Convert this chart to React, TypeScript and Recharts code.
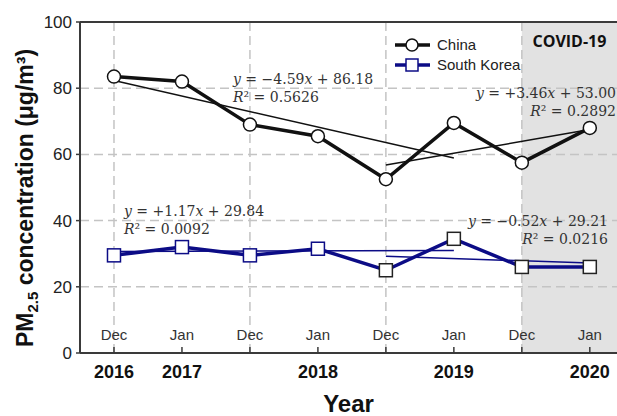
import { LineChart, Line, XAxis, YAxis, ReferenceArea, ReferenceLine } from 'recharts'

// x positions are survey months, plotted on an even index scale
const POSITIONS = [0, 1, 2, 3, 4, 5, 6, 7]
const MONTHS = ['Dec', 'Jan', 'Dec', 'Jan', 'Dec', 'Jan', 'Dec', 'Jan']
const YEARS = ['2016', '2017', '', '2018', '', '2019', '', '2020']

const CHINA = [83.5, 82, 69, 65.5, 52.5, 69.5, 57.5, 68]
const KOREA = [29.5, 32, 29.5, 31.5, 25, 34.5, 26, 26]

// linear fits: [start index, end index] and fitted values at those ends
const FIT_CHINA_PRE = { span: [0, 5], values: [82.3, 58.9] }
const FIT_CHINA_POST = { span: [4, 7], values: [56.8, 67.5] }
const FIT_KOREA_PRE = { span: [0, 5], values: [30.7, 31.0] }
const FIT_KOREA_POST = { span: [4, 7], values: [29.2, 27.2] }

const Y_TICKS = [0, 20, 40, 60, 80, 100]
const GRID_Y = [20, 40, 60, 80]
const GRID_X = [0, 2, 4, 6]
const COVID_START = 6
const X_MAX = 7.4

const NAVY = '#0c0c86'
const GRID = '#c4c4c4'
const AXIS = '#3a3a3a'
const SANS = '"Liberation Sans", Arial, sans-serif'
const SERIF = '"DejaVu Serif", serif'

const rows = POSITIONS.map((pos, i) => ({ pos, china: CHINA[i], korea: KOREA[i] }))
const fitRows = (fit: { span: number[]; values: number[] }) =>
  fit.span.map((pos, i) => ({ pos, fit: fit.values[i] }))

function MonthTick({ x, y, payload }: any) {
  const i = payload.value
  return (
    <g>
      <line x1={x} x2={x} y1={y} y2={y - 6} stroke={AXIS} strokeWidth={1.5} />
      <text x={x} y={y - 13} textAnchor="middle" fontSize={15} fill="#333" fontFamily={SANS}>
        {MONTHS[i]}
      </text>
      {YEARS[i] && (
        <text x={x} y={y + 25} textAnchor="middle" fontSize={18} fontWeight="bold" fill="#111" fontFamily={SANS}>
          {YEARS[i]}
        </text>
      )}
    </g>
  )
}

function KoreaDot({ cx, cy, index }: any) {
  return (
    <rect
      key={`k${index}`}
      x={cx - 6.5}
      y={cy - 6.5}
      width={13}
      height={13}
      fill="#fff"
      stroke={index < 4 ? NAVY : '#222'}
      strokeWidth={1.5}
    />
  )
}

function Equation({ x, y, anchor, slope, icept, r2 }: any) {
  return (
    <g fontFamily={SERIF} fontSize={14} fill="#333">
      <text x={x} y={y} textAnchor={anchor}>
        <tspan fontStyle="italic">y</tspan> = {slope}
        <tspan fontStyle="italic">x</tspan> + {icept}
      </text>
      <text x={x} y={y + 18} textAnchor={anchor}>
        <tspan fontStyle="italic">R</tspan>² = {r2}
      </text>
    </g>
  )
}

function LegendBox() {
  return (
    <svg width={150} height={42} style={{ position: 'absolute', left: 390, top: 34 }}>
      <line x1={5} x2={40} y1={11} y2={11} stroke="#111" strokeWidth={3.5} />
      <circle cx={22} cy={11} r={6} fill="#fff" stroke="#111" strokeWidth={1.5} />
      <text x={47} y={16} fontSize={15} fontFamily={SANS} fill="#222">China</text>
      <line x1={5} x2={40} y1={31} y2={31} stroke={NAVY} strokeWidth={3.5} />
      <rect x={16} y={25} width={12} height={12} fill="#fff" stroke={NAVY} strokeWidth={1.5} />
      <text x={47} y={36} fontSize={15} fontFamily={SANS} fill="#222">South Korea</text>
    </svg>
  )
}

export default function App() {
  return (
    <div style={{ position: 'absolute', left: 0, top: 0, width: 617, height: 416, background: '#fff' }}>
      <LineChart width={617} height={416} data={rows} margin={{ top: 22, right: 0, bottom: 0, left: 0 }}>
        <ReferenceArea
          x1={COVID_START}
          x2={X_MAX}
          y1={0}
          y2={100}
          fill="#e2e2e2"
          fillOpacity={1}
          stroke="none"
          label={({ viewBox }: any) => (
            <text
              x={viewBox.x + viewBox.width / 2}
              y={viewBox.y + 25}
              textAnchor="middle"
              fontSize={16}
              fontWeight="bold"
              fontFamily='"Open Sans", sans-serif'
              fill="#111"
            >
              COVID-19
            </text>
          )}
        />
        {GRID_Y.map(v => (
          <ReferenceLine key={`gy${v}`} y={v} stroke={GRID} strokeWidth={1.5} strokeDasharray="9 5" />
        ))}
        {GRID_X.map(v => (
          <ReferenceLine key={`gx${v}`} x={v} stroke={GRID} strokeWidth={1.5} strokeDasharray="9 5" />
        ))}
        <ReferenceLine y={100} stroke={AXIS} strokeWidth={2} />
        <XAxis
          dataKey="pos"
          type="number"
          domain={[-0.5, X_MAX]}
          ticks={POSITIONS}
          interval={0}
          height={63}
          tickLine={false}
          tickSize={0}
          tickMargin={0}
          tick={<MonthTick />}
          axisLine={{ stroke: AXIS, strokeWidth: 2 }}
          label={{
            value: 'Year',
            position: 'insideBottom',
            offset: 4,
            fontSize: 24,
            fontWeight: 'bold',
            fontFamily: SANS,
            fill: '#111',
          }}
        />
        <YAxis
          domain={[0, 100]}
          ticks={Y_TICKS}
          width={80}
          tickSize={4}
          tickMargin={4}
          tick={{ fontSize: 17, fill: '#222', fontFamily: SANS }}
          tickLine={{ stroke: AXIS, strokeWidth: 1.5 }}
          axisLine={{ stroke: AXIS, strokeWidth: 2 }}
          label={() => (
            <text
              transform="rotate(-90)"
              x={-198}
              y={33}
              textAnchor="middle"
              fontSize={23}
              fontWeight="bold"
              fontFamily={SANS}
              fill="#111"
            >
              PM
              <tspan fontSize={15} dy={5}>2.5</tspan>
              <tspan dy={-5}> concentration (μg/m³)</tspan>
            </text>
          )}
        />
        <ReferenceLine
          y={0}
          stroke="none"
          label={() => (
            <g>
              <Equation x={233} y={84} anchor="start" slope="−4.59" icept="86.18" r2="0.5626" />
              <Equation x={616} y={98} anchor="end" slope="+3.46" icept="53.00" r2="0.2892" />
              <Equation x={124} y={216} anchor="start" slope="+1.17" icept="29.84" r2="0.0092" />
              <Equation x={608} y={226} anchor="end" slope="−0.52" icept="29.21" r2="0.0216" />
            </g>
          )}
        />
        <Line data={fitRows(FIT_CHINA_PRE)} dataKey="fit" stroke="#111" strokeWidth={1.5} dot={false} activeDot={false} isAnimationActive={false} />
        <Line data={fitRows(FIT_CHINA_POST)} dataKey="fit" stroke="#111" strokeWidth={1.5} dot={false} activeDot={false} isAnimationActive={false} />
        <Line dataKey="china" stroke="#111" strokeWidth={3.5} dot={{ r: 6.5, fill: '#fff', stroke: '#111', strokeWidth: 1.5 }} activeDot={false} isAnimationActive={false} />
        <Line dataKey="korea" stroke={NAVY} strokeWidth={3.5} dot={<KoreaDot />} activeDot={false} isAnimationActive={false} />
        <Line data={fitRows(FIT_KOREA_PRE)} dataKey="fit" stroke={NAVY} strokeWidth={1.5} dot={false} activeDot={false} isAnimationActive={false} />
        <Line data={fitRows(FIT_KOREA_POST)} dataKey="fit" stroke={NAVY} strokeWidth={1.5} dot={false} activeDot={false} isAnimationActive={false} />
      </LineChart>
      <LegendBox />
    </div>
  )
}
